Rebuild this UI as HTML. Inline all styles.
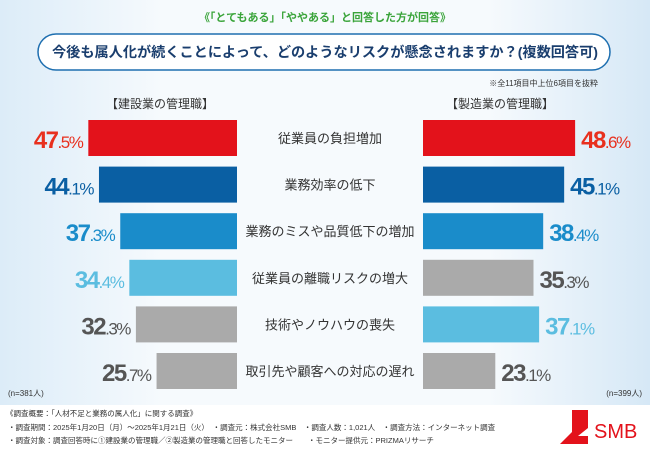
<!DOCTYPE html>
<html><head><meta charset="utf-8"><style>
html,body{margin:0;padding:0}
body{width:650px;height:450px;overflow:hidden;font-family:"Liberation Sans","Noto Sans CJK JP",sans-serif;background:#fff}
</style></head><body>
<svg id="c" width="650" height="450" xmlns="http://www.w3.org/2000/svg" style="font-family:'Liberation Sans','Noto Sans CJK JP',sans-serif">
<defs>
<linearGradient id="bg" x1="0" y1="0" x2="1" y2="0">
<stop offset="0" stop-color="#dcecf8"/><stop offset="0.25" stop-color="#f6fafd"/><stop offset="0.75" stop-color="#f6fafd"/><stop offset="1" stop-color="#d6e8f6"/>
</linearGradient>
</defs>
<rect x="0" y="0" width="650" height="405" fill="url(#bg)"/>
<rect x="0" y="405" width="650" height="45" fill="#fff"/>
<text x="325" y="21" text-anchor="middle" font-size="11" font-weight="bold" fill="#3aa43a">《「とてもある」「ややある」と回答した方が回答》</text>
<rect x="38" y="34" width="572" height="36" rx="18" fill="#fff" stroke="#1e6fb0" stroke-width="1.5"/>
<text x="52" y="57" font-size="14" font-weight="bold" fill="#1a3e6e" textLength="546" lengthAdjust="spacingAndGlyphs">今後も属人化が続くことによって、どのようなリスクが懸念されますか？(複数回答可)</text>
<text x="598" y="86" text-anchor="end" font-size="8" fill="#333">※全11項目中上位6項目を抜粋</text>
<text x="160" y="108" text-anchor="middle" font-size="12" fill="#333">【建設業の管理職】</text>
<text x="500" y="108" text-anchor="middle" font-size="12" fill="#333">【製造業の管理職】</text>
<text x="8" y="396" font-size="8" fill="#333">(n=381人)</text>
<text x="642" y="396" text-anchor="end" font-size="8" fill="#333">(n=399人)</text>
<g id="bars"></g>
<g font-size="7.5" fill="#333">
<text x="6" y="416">《調査概要：「人材不足と業務の属人化」に関する調査》</text>
<text x="8" y="430">・調査期間：2025年1月20日（月）～2025年1月21日（火）　・調査元：株式会社SMB　・調査人数：1,021人　・調査方法：インターネット調査</text>
<text x="8" y="443">・調査対象：調査回答時に①建設業の管理職／②製造業の管理職と回答したモニター　　・モニター提供元：PRIZMAリサーチ</text>
</g>
<g>
<path d="M572 410 L588 410 L588 428 L578 436 L588 436 L588 444 L560 444 L572 432 Z" fill="#e3121b"/>
<text x="594" y="438" font-size="20" fill="#e3121b">SMB</text>
</g>
</svg>
<script>
const categories=["従業員の負担増加","業務効率の低下","業務のミスや品質低下の増加","従業員の離職リスクの増大","技術やノウハウの喪失","取引先や顧客への対応の遅れ"];
const leftValues=[47.5,44.1,37.3,34.4,32.3,25.7];
const rightValues=[48.6,45.1,38.4,35.3,37.1,23.1];
const leftColors=["#e3121b","#0a5fa3","#1a8cca","#5bbde0","#aaaaaa","#aaaaaa"];
const rightColors=["#e3121b","#0a5fa3","#1a8cca","#aaaaaa","#5bbde0","#aaaaaa"];
const labelColors={"#e3121b":"#e8301e","#0a5fa3":"#0a5fa3","#1a8cca":"#1a8cca","#5bbde0":"#5bbde0","#aaaaaa":"#555"};
const NS="http://www.w3.org/2000/svg";
const g=document.getElementById("bars");
const sx=v=>v*3.13;
const rowY=i=>120+i*46.6;
const H=36;
function el(t,a){const e=document.createElementNS(NS,t);for(const k in a)e.setAttribute(k,a[k]);g.appendChild(e);return e;}
function label(x,y,v,color,anchor,name){
  const t=el("text",{x:x,y:y,"text-anchor":anchor,fill:color,"font-weight":"bold","font-size":"24","letter-spacing":"-1.5"});
  
  
  const s=v.toFixed(1).split(".");
  const a=document.createElementNS(NS,"tspan");a.textContent=s[0];t.appendChild(a);
  const b=document.createElementNS(NS,"tspan");b.setAttribute("font-size","17");b.setAttribute("font-weight","normal");b.textContent="."+s[1]+"%";t.appendChild(b);
}
categories.forEach((c,i)=>{
  const y=rowY(i);
  const lw=sx(leftValues[i]);
  const r1=el("rect",{x:237-lw,y:y,width:lw,height:H,fill:leftColors[i]});
  
  
  label(237-lw-6,y+28,leftValues[i],labelColors[leftColors[i]],"end",'left-value-'+(i+1));
  const rw=sx(rightValues[i]);
  const r2=el("rect",{x:423,y:y,width:rw,height:H,fill:rightColors[i]});
  
  
  label(423+rw+6,y+28,rightValues[i],labelColors[rightColors[i]],"start",'right-value-'+(i+1));
  const t=el("text",{x:330,y:y+23,"text-anchor":"middle","font-size":"13",fill:"#333"});
  t.textContent=c;
  
  
});
</script>
</body></html>
